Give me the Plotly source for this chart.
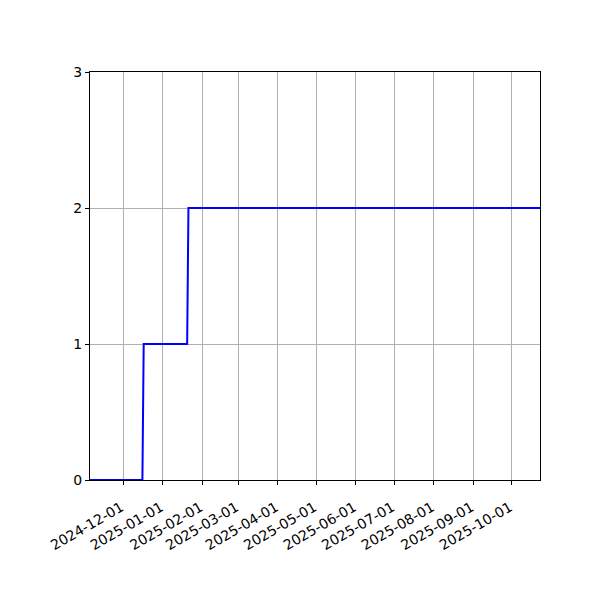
import plotly.graph_objects as go

dates = ['2024-11-05', '2024-12-16', '2024-12-17', '2025-01-20', '2025-01-21', '2025-10-23']
counts = [0, 0, 1, 1, 2, 2]
tick_dates = ['2024-12-01', '2025-01-01', '2025-02-01', '2025-03-01', '2025-04-01',
              '2025-05-01', '2025-06-01', '2025-07-01', '2025-08-01', '2025-09-01', '2025-10-01']

fig = go.Figure()
fig.add_trace(go.Scatter(x=dates, y=counts, mode='lines',
                         line=dict(color='#0000ff', width=2)))

# page adds ~8px offset, so margins are trimmed by that
fig.update_layout(
    width=600,
    height=600,
    margin=dict(l=82, r=68, t=64, b=128),
    plot_bgcolor='white',
    paper_bgcolor='white',
    showlegend=False,
    font=dict(family='DejaVu Sans', size=14, color='black'),
)
fig.update_xaxes(
    range=[dates[0], dates[-1]],
    tickvals=tick_dates,
    ticktext=tick_dates,
    tickangle=-30,
    ticklabelstandoff=9,
    ticklabelshift=-2,
    showgrid=True, gridcolor='#b0b0b0', gridwidth=1,
    showline=True, linecolor='black', linewidth=1, mirror=True,
    ticks='outside', ticklen=4, tickcolor='black',
    zeroline=False,
)
fig.update_yaxes(
    range=[0, 3],
    tickvals=[0, 1, 2, 3],
    showgrid=True, gridcolor='#b0b0b0', gridwidth=1,
    showline=True, linecolor='black', linewidth=1, mirror=True,
    ticks='outside', ticklen=4, tickcolor='black',
    zeroline=False,
)

fig.write_html("out.html")
